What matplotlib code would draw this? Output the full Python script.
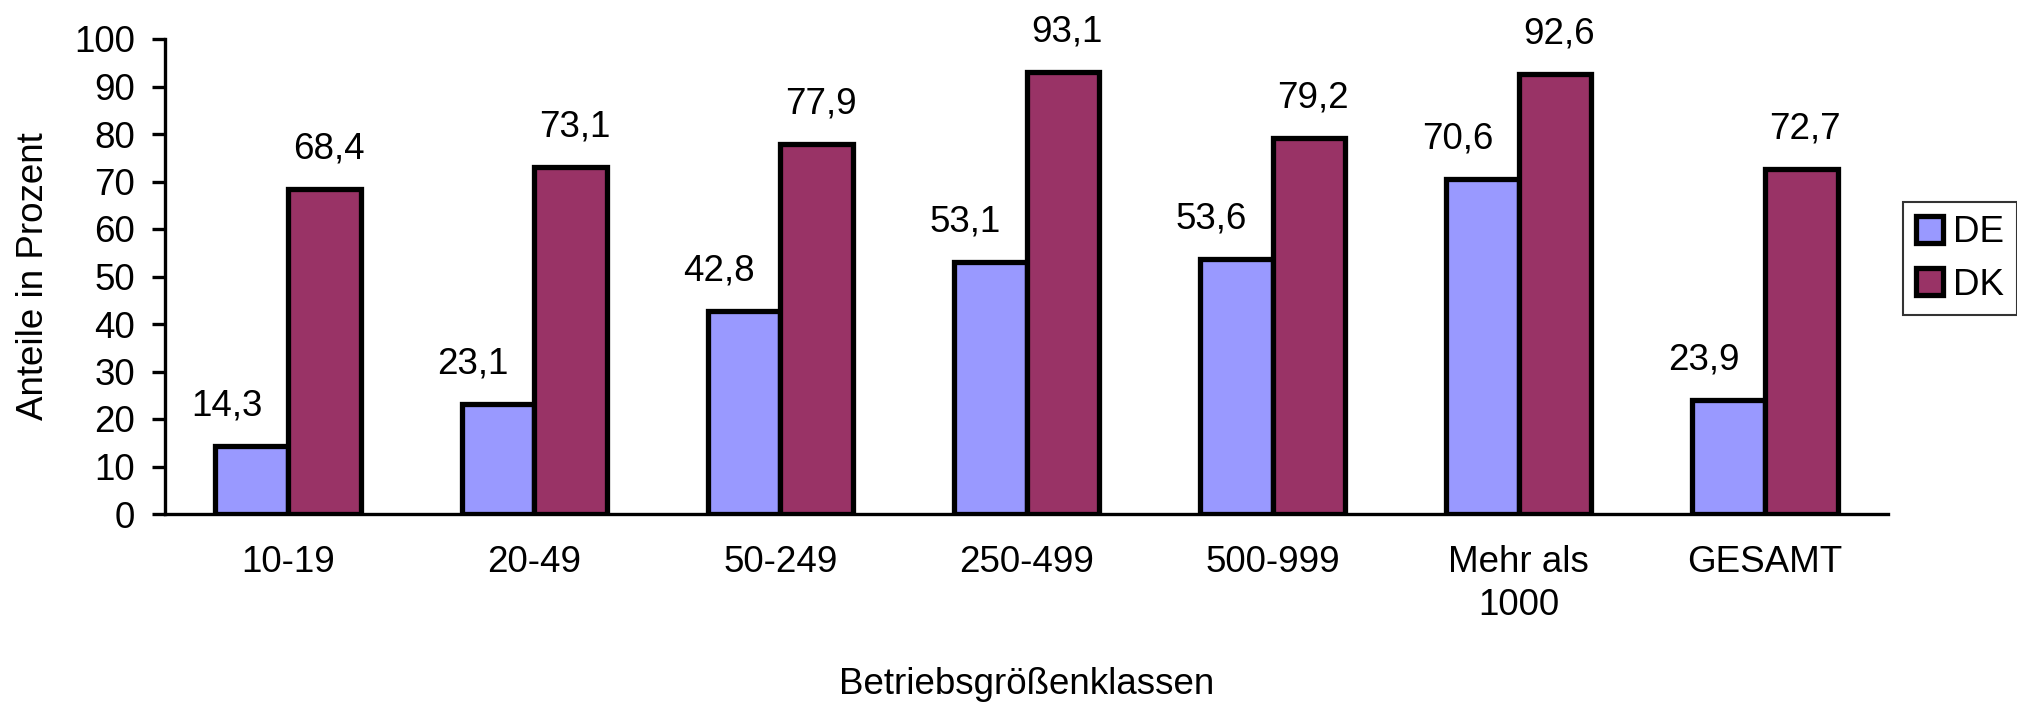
import numpy as np
import matplotlib
matplotlib.use("Agg")
import matplotlib.pyplot as plt
from matplotlib.patches import Patch

# data
categories = ["10-19", "20-49", "50-249", "250-499", "500-999", "Mehr als\n1000", "GESAMT"]
de_values = [14.3, 23.1, 42.8, 53.1, 53.6, 70.6, 23.9]
dk_values = [68.4, 73.1, 77.9, 93.1, 79.2, 92.6, 72.7]
series_names = ["DE", "DK"]
yticks = list(range(0, 101, 10))

col_de = "#9999FF"
col_dk = "#993366"
fs = 26.5

plt.rcParams['font.family'] = ['Liberation Sans', 'DejaVu Sans']

fig = plt.figure(figsize=(20.17, 7.06), dpi=100)
ax = fig.add_axes([165/2017, 1 - 514/706, (1888 - 165)/2017, (514 - 39)/706])

x = np.arange(len(categories))
w = 0.295
ax.bar(x - w/2, de_values, w, color=col_de, edgecolor="black", linewidth=3.8, zorder=3)
ax.bar(x + w/2, dk_values, w, color=col_dk, edgecolor="black", linewidth=3.8, zorder=3)

# value labels (German decimal comma)
for xi, v in zip(x, de_values):
    ax.annotate(f"{v:.1f}".replace(".", ","), (xi - w/2, v), xytext=(-18, 22),
                textcoords="offset points", ha="center", va="baseline", fontsize=fs)
for xi, v in zip(x, dk_values):
    ax.annotate(f"{v:.1f}".replace(".", ","), (xi + w/2, v), xytext=(3, 22),
                textcoords="offset points", ha="center", va="baseline", fontsize=fs)

ax.set_xlim(-0.5, len(categories) - 0.5)
ax.set_ylim(0, 100)
ax.set_yticks(yticks)
ax.set_xticks(x)
ax.set_xticklabels(categories, fontsize=fs, linespacing=1.3)
ax.tick_params(axis="y", labelsize=fs, length=9.5, width=2.4, pad=12, direction="out")
ax.tick_params(axis="x", length=0, pad=22)

for s in ["top", "right"]:
    ax.spines[s].set_visible(False)
for s in ["left", "bottom"]:
    ax.spines[s].set_linewidth(2.4)

ax.set_ylabel("Anteile in Prozent", fontsize=fs)
ax.yaxis.set_label_coords(-0.066, 0.5)
ax.set_xlabel("Betriebsgrößenklassen", fontsize=fs)
ax.xaxis.set_label_coords(0.5, -0.322)

handles = [Patch(facecolor=col_de, edgecolor="black", linewidth=3.8),
           Patch(facecolor=col_dk, edgecolor="black", linewidth=3.8)]
leg = fig.legend(handles, series_names, loc="upper left",
                 bbox_to_anchor=(1903/2017, 1 - 202/706), fontsize=fs,
                 frameon=True, fancybox=False, borderaxespad=0, borderpad=0.35,
                 handlelength=0.75, handleheight=0.75, handletextpad=0.25,
                 labelspacing=0.48)
leg.get_frame().set_edgecolor("black")
leg.get_frame().set_linewidth(1.5)

fig.savefig("out.png", dpi=100, facecolor="white")
